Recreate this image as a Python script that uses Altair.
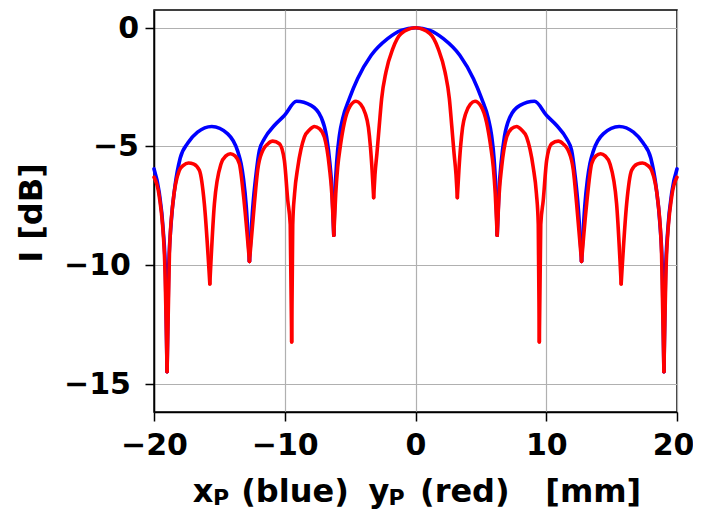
import altair as alt
import pandas as pd

# Blue curve: x_P [mm] and intensity [dB]
blue_x = [-20.0, -19.6, -19.3, -19.12, -19.0, -18.88, -18.7, -18.4, -18.0, -17.4,
          -16.67, -15.58, -14.36, -13.6, -13.34, -13.15, -12.95, -12.7, -12.45, -12.2,
          -11.94, -11.56, -10.8, -10.03, -9.1, -7.99, -7.22, -6.8, -6.55, -6.38,
          -6.25, -6.15, -6.02, -5.82, -5.57, -5.06, -4.43, -3.4, -2.13, -1.1,
          0.0,
          1.1, 2.13, 3.4, 4.43, 5.06, 5.57, 5.82, 6.02, 6.15, 6.25,
          6.38, 6.55, 6.8, 7.22, 7.99, 9.1, 10.03, 10.8, 11.56, 11.94,
          12.2, 12.45, 12.7, 12.95, 13.15, 13.34, 13.6, 14.36, 15.58, 16.67,
          17.4, 18.0, 18.4, 18.7, 18.88, 19.0, 19.12, 19.3, 19.6, 20.0]
blue_db = [-5.95, -6.95, -8.5, -10.4, -14.5, -10.2, -8.3, -6.7, -5.5, -4.85,
           -4.4, -4.16, -4.47, -5.2, -5.73, -6.4, -7.5, -9.85, -7.6, -6.2,
           -5.17, -4.68, -4.12, -3.7, -3.1, -3.27, -3.77, -4.6, -5.7, -6.9,
           -8.75, -6.9, -5.6, -4.54, -3.83, -2.99, -2.15, -1.17, -0.46, -0.11,
           0.0,
           -0.11, -0.46, -1.17, -2.15, -2.99, -3.83, -4.54, -5.6, -6.9, -8.75,
           -6.9, -5.7, -4.6, -3.77, -3.27, -3.1, -3.7, -4.12, -4.68, -5.17,
           -6.2, -7.6, -9.85, -7.5, -6.4, -5.73, -5.2, -4.47, -4.16, -4.4,
           -4.85, -5.5, -6.7, -8.3, -10.2, -14.5, -10.4, -8.5, -6.95, -5.95]

# Red curve: y_P [mm] and intensity [dB]
red_x = [-20.0, -19.6, -19.2, -19.0, -18.82, -18.56, -18.06, -17.75, -17.37, -16.95,
         -16.53, -16.15, -15.73, -15.38, -14.87, -14.5, -14.16, -13.8, -13.47, -13.09,
         -12.7, -12.32, -12.07, -11.68, -11.3, -10.92, -10.41, -10.03, -9.77, -9.58,
         -9.47, -9.39, -9.25, -9.0, -8.5, -8.1, -7.74, -7.35, -6.97, -6.59,
         -6.4, -6.25, -6.1, -5.95, -5.75, -5.44, -5.0, -4.55, -4.2, -3.85,
         -3.6, -3.45, -3.32, -3.2, -3.1, -2.95, -2.77, -2.59, -2.26, -1.74, -1.1,
         0.0,
         1.1, 1.74, 2.26, 2.59, 2.77, 2.95, 3.1, 3.2, 3.32, 3.45,
         3.6, 3.85, 4.2, 4.55, 5.0, 5.44, 5.75, 5.95, 6.1, 6.25,
         6.4, 6.59, 6.97, 7.35, 7.74, 8.1, 8.5, 9.0, 9.25, 9.39,
         9.47, 9.58, 9.77, 10.03, 10.41, 10.92, 11.3, 11.68, 12.07, 12.32,
         12.7, 13.09, 13.47, 13.8, 14.16, 14.5, 14.87, 15.38, 15.73, 16.15,
         16.53, 16.95, 17.37, 17.75, 18.06, 18.56, 18.82, 19.0, 19.2, 19.6, 20.0]
red_db = [-6.3, -7.1, -9.6, -14.5, -9.52, -7.42, -6.01, -5.8, -5.7, -5.75,
          -6.01, -7.42, -10.8, -7.42, -5.73, -5.4, -5.31, -5.4, -5.73, -7.42,
          -9.85, -7.4, -6.0, -5.17, -4.9, -4.78, -4.89, -5.59, -7.28, -8.3,
          -13.25, -8.3, -7.0, -5.87, -4.61, -4.3, -4.16, -4.25, -4.61, -5.87,
          -7.0, -8.75, -7.0, -5.87, -5.0, -4.0, -3.3, -3.1, -3.22, -3.6,
          -4.2, -5.0, -6.0, -7.16, -6.2, -5.3, -4.12, -2.99, -1.87, -0.89, -0.25,
          0.0,
          -0.25, -0.89, -1.87, -2.99, -4.12, -5.3, -6.2, -7.16, -6.0, -5.0,
          -4.2, -3.6, -3.22, -3.1, -3.3, -4.0, -5.0, -5.87, -7.0, -8.75,
          -7.0, -5.87, -4.61, -4.25, -4.16, -4.3, -4.61, -5.87, -7.0, -8.3,
          -13.25, -8.3, -7.28, -5.59, -4.89, -4.78, -4.9, -5.17, -6.0, -7.4,
          -9.85, -7.42, -5.73, -5.4, -5.31, -5.4, -5.73, -7.42, -10.8, -7.42,
          -6.01, -5.75, -5.7, -5.8, -6.01, -7.42, -9.52, -14.5, -9.6, -7.1, -6.3]

x_ticks = [-20, -10, 0, 10, 20]
y_ticks = [0, -5, -10, -15]

FONT = "DejaVu Sans"
LFS = 30   # tick labels
TFS = 32   # axis titles


def lobes(xs, ys):
    """Split a curve at its nulls (local minima) so each lobe is drawn
    as its own smooth path; the null point is shared by both lobes."""
    rows, seg = [], 0
    n = len(xs)
    cuts = [i for i in range(1, n - 1) if ys[i] < ys[i - 1] and ys[i] < ys[i + 1]]
    bounds = [0] + cuts + [n - 1]
    for a, b in zip(bounds[:-1], bounds[1:]):
        for i in range(a, b + 1):
            rows.append({"x": xs[i], "db": ys[i], "seg": seg})
        seg += 1
    return pd.DataFrame(rows)


blue_df = lobes(blue_x, blue_db)
red_df = lobes(red_x, red_db)

xscale = alt.Scale(domain=[-20, 20], nice=False, zero=False)
yscale = alt.Scale(domain=[-16.2, 0.75], nice=False, zero=False)

common = dict(title=None, labelFont=FONT, labelFontWeight="bold", labelColor="black",
              tickColor="black", tickWidth=1.5, tickSize=9, domainColor="black",
              domainWidth=1.5, gridColor="#b0b0b0", gridWidth=1.2)
xaxis = alt.Axis(values=x_ticks, labelFontSize=LFS, labelPadding=9, labelFlush=False,
                 labelOverlap=False, format="d",
                 labelOffset={"condition": {"test": "datum.value == 20", "value": -4},
                              "value": 0},
                 **common)
yaxis = alt.Axis(values=y_ticks, labels=False, **common)

line_style = dict(strokeWidth=3.6, interpolate="monotone", strokeCap="round",
                  strokeJoin="round")

blue = alt.Chart(blue_df).mark_line(color="#0000ff", **line_style).encode(
    x=alt.X("x:Q", scale=xscale, axis=xaxis),
    y=alt.Y("db:Q", scale=yscale, axis=yaxis),
    detail="seg:N",
    order="x:Q",
)
red = alt.Chart(red_df).mark_line(color="#ff0000", **line_style).encode(
    x=alt.X("x:Q", scale=xscale, axis=xaxis),
    y=alt.Y("db:Q", scale=yscale, axis=yaxis),
    detail="seg:N",
    order="x:Q",
)

# y tick labels (single-digit and double-digit labels sit at slightly different offsets)
ylab = alt.Chart(pd.DataFrame({"v": y_ticks})).transform_calculate(
    t="format(datum.v, 'd')"
)
ylab_short = ylab.transform_filter("abs(datum.v) < 10").mark_text(
    font=FONT, fontWeight="bold", fontSize=LFS, color="black",
    align="right", baseline="middle", dy=1,
).encode(y=alt.Y("v:Q", scale=yscale, axis=yaxis), x=alt.value(-15), text="t:N")
ylab_long = ylab.transform_filter("abs(datum.v) >= 10").mark_text(
    font=FONT, fontWeight="bold", fontSize=LFS, color="black",
    align="right", baseline="middle", dy=1,
).encode(y=alt.Y("v:Q", scale=yscale, axis=yaxis), x=alt.value(-23), text="t:N")


def label(text, x, y, size=TFS, angle=0, align="left", baseline="alphabetic"):
    return alt.Chart(pd.DataFrame({"t": [text]})).mark_text(
        font=FONT, fontWeight="bold", fontSize=size, color="black",
        align=align, baseline=baseline, angle=angle,
    ).encode(x=alt.value(x), y=alt.value(y), text="t:N")


titles = [
    label("x", 38.7, 492),
    label("P", 59, 495, size=22),
    label("(blue)", 87.2, 492),
    label("y", 214.4, 492),
    label("P", 234.4, 495, size=22),
    label("(red)", 266, 492),
    label("[mm]", 391.3, 492),
    label("I [dB]", -122, 203, angle=270, align="center", baseline="middle"),
]

chart = alt.layer(blue, red, ylab_short, ylab_long, *titles).properties(
    width=523, height=402,
    autosize="none",
    padding={"left": 146, "top": 2, "right": 16, "bottom": 99},
).configure_view(stroke="black", strokeWidth=1.5)

chart.save("out.html", embed_options={"renderer": "svg", "actions": False})
